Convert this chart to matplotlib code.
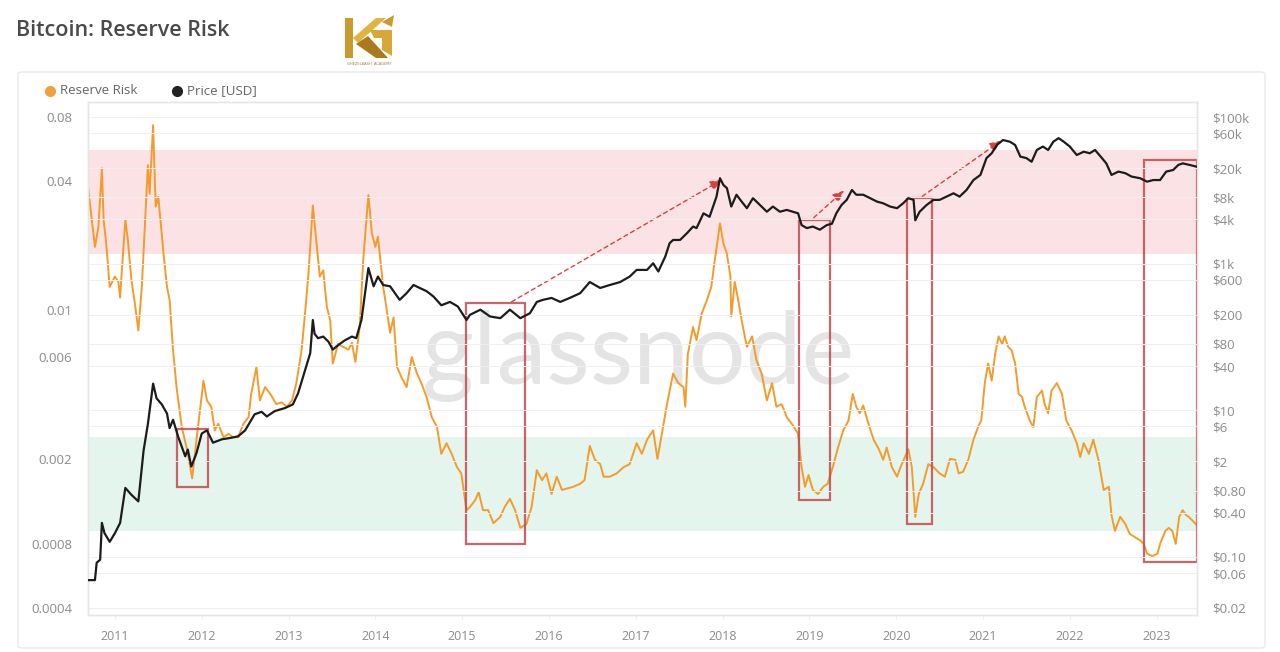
import matplotlib
matplotlib.use("Agg")
import matplotlib.pyplot as plt
from matplotlib.patches import Rectangle, FancyBboxPatch, Polygon
from matplotlib.ticker import FixedLocator, NullLocator, FixedFormatter

# ---------------- data ----------------
rr_years = [2010.69, 2010.73, 2010.77, 2010.81, 2010.85, 2010.87, 2010.90, 2010.94, 2011.00, 2011.04,
            2011.06, 2011.08, 2011.12, 2011.15, 2011.19, 2011.23, 2011.27, 2011.31, 2011.35, 2011.38,
            2011.40, 2011.44, 2011.47, 2011.50, 2011.56, 2011.60, 2011.63, 2011.67, 2011.71, 2011.77,
            2011.83, 2011.89, 2011.94, 2012.02, 2012.06, 2012.11, 2012.15, 2012.19, 2012.25, 2012.31,
            2012.36, 2012.42, 2012.48, 2012.54, 2012.57, 2012.63, 2012.67, 2012.73, 2012.79, 2012.86,
            2012.92, 2012.98, 2013.04, 2013.09, 2013.15, 2013.19, 2013.23, 2013.28, 2013.32, 2013.36,
            2013.40, 2013.44, 2013.48, 2013.51, 2013.57, 2013.63, 2013.69, 2013.73, 2013.77, 2013.82,
            2013.86, 2013.92, 2013.96, 2014.00, 2014.03, 2014.09, 2014.11, 2014.17, 2014.21, 2014.25,
            2014.30, 2014.36, 2014.42, 2014.48, 2014.53, 2014.59, 2014.65, 2014.71, 2014.76, 2014.82,
            2014.88, 2014.94, 2014.99, 2015.05, 2015.09, 2015.15, 2015.19, 2015.24, 2015.30, 2015.36,
            2015.44, 2015.49, 2015.55, 2015.61, 2015.67, 2015.74, 2015.80, 2015.86, 2015.92, 2015.97,
            2016.03, 2016.09, 2016.15, 2016.20, 2016.28, 2016.36, 2016.41, 2016.47, 2016.53, 2016.59,
            2016.63, 2016.70, 2016.78, 2016.86, 2016.93, 2017.01, 2017.07, 2017.13, 2017.20, 2017.25,
            2017.30, 2017.36, 2017.43, 2017.49, 2017.55, 2017.57, 2017.60, 2017.66, 2017.70, 2017.76,
            2017.82, 2017.87, 2017.91, 2017.97, 2018.01, 2018.05, 2018.09, 2018.10, 2018.14, 2018.18,
            2018.22, 2018.28, 2018.34, 2018.39, 2018.45, 2018.51, 2018.57, 2018.62, 2018.68, 2018.74,
            2018.81, 2018.87, 2018.91, 2018.95, 2018.99, 2019.04, 2019.10, 2019.16, 2019.21, 2019.27,
            2019.33, 2019.39, 2019.45, 2019.50, 2019.54, 2019.58, 2019.62, 2019.68, 2019.74, 2019.80,
            2019.85, 2019.89, 2019.95, 2020.01, 2020.05, 2020.10, 2020.14, 2020.18, 2020.22, 2020.26,
            2020.31, 2020.37, 2020.43, 2020.50, 2020.56, 2020.62, 2020.68, 2020.72, 2020.77, 2020.83,
            2020.89, 2020.95, 2020.98, 2021.02, 2021.06, 2021.10, 2021.14, 2021.18, 2021.22, 2021.25,
            2021.29, 2021.33, 2021.37, 2021.41, 2021.45, 2021.48, 2021.54, 2021.58, 2021.62, 2021.68,
            2021.71, 2021.75, 2021.79, 2021.85, 2021.91, 2021.96, 2022.02, 2022.08, 2022.12, 2022.16,
            2022.22, 2022.27, 2022.33, 2022.39, 2022.45, 2022.48, 2022.52, 2022.58, 2022.64, 2022.69,
            2022.75, 2022.81, 2022.85, 2022.89, 2022.95, 2023.01, 2023.04, 2023.10, 2023.14, 2023.18,
            2023.22, 2023.26, 2023.30, 2023.34, 2023.37, 2023.41, 2023.47]

rr_values = [0.0377, 0.0272, 0.0197, 0.0245, 0.0460, 0.0263, 0.0204, 0.0128, 0.0143, 0.0135,
             0.0114, 0.0153, 0.0263, 0.0211, 0.0138, 0.0107, 0.0080, 0.0128, 0.0272, 0.0476,
             0.0350, 0.0733, 0.0304, 0.0338, 0.0183, 0.0128, 0.0111, 0.00645, 0.00434, 0.00282,
             0.00222, 0.00162, 0.00246, 0.00465, 0.00376, 0.00351, 0.00272, 0.00292, 0.00253, 0.00262,
             0.00253, 0.00253, 0.00292, 0.00314, 0.00403, 0.00538, 0.00376, 0.00434, 0.00403, 0.00361,
             0.00368, 0.00351, 0.00376, 0.00453, 0.00645, 0.0096, 0.0148, 0.0308, 0.0211, 0.0143,
             0.0153, 0.0104, 0.0089, 0.0056, 0.0069, 0.0067, 0.0065, 0.0070, 0.0057, 0.0083,
             0.0170, 0.0345, 0.0228, 0.0197, 0.0220, 0.0128, 0.0114, 0.0078, 0.0092, 0.00538,
             0.00484, 0.00434, 0.0060, 0.00502, 0.00453, 0.00390, 0.00314, 0.00282, 0.00211, 0.00237,
             0.00211, 0.00183, 0.00171, 0.00115, 0.00119, 0.00128, 0.00140, 0.00115, 0.00115, 0.00100,
             0.00107, 0.00119, 0.00130, 0.00115, 0.00095, 0.00099, 0.00119, 0.00177, 0.00159, 0.00171,
             0.00137, 0.00165, 0.00143, 0.00145, 0.00148, 0.00153, 0.00159, 0.00230, 0.00198, 0.00189,
             0.00165, 0.00165, 0.00171, 0.00183, 0.00189, 0.00237, 0.00211, 0.00246, 0.00272, 0.00200,
             0.00262, 0.00361, 0.00502, 0.00453, 0.00434, 0.00351, 0.0062, 0.0083, 0.0072, 0.0096,
             0.0111, 0.0128, 0.0170, 0.0254, 0.0204, 0.0183, 0.0143, 0.0093, 0.0135, 0.0111,
             0.0089, 0.0067, 0.0075, 0.0058, 0.00502, 0.00376, 0.00453, 0.00351, 0.00361, 0.00314,
             0.00287, 0.00262, 0.00183, 0.00148, 0.00168, 0.00143, 0.00137, 0.00148, 0.00153, 0.00183,
             0.00226, 0.00272, 0.00302, 0.00403, 0.00351, 0.00327, 0.00356, 0.00292, 0.00246, 0.00222,
             0.00198, 0.00226, 0.00183, 0.00165, 0.00183, 0.00204, 0.00222, 0.00183, 0.00107, 0.00137,
             0.00153, 0.00189, 0.00183, 0.00171, 0.00165, 0.00200, 0.00198, 0.00171, 0.00174, 0.00198,
             0.00246, 0.00287, 0.00302, 0.00453, 0.0056, 0.00465, 0.0062, 0.0075, 0.0069, 0.0075,
             0.0067, 0.00645, 0.0056, 0.00403, 0.00390, 0.00351, 0.00302, 0.00282, 0.00390, 0.00418,
             0.00361, 0.00327, 0.00418, 0.00453, 0.00403, 0.00302, 0.00272, 0.00237, 0.00204, 0.00237,
             0.00211, 0.00246, 0.00198, 0.00143, 0.00148, 0.00109, 0.00092, 0.00107, 0.00099, 0.00089,
             0.00086, 0.00083, 0.00080, 0.00072, 0.00070, 0.00072, 0.00080, 0.00092, 0.00095, 0.00092,
             0.00080, 0.00107, 0.00115, 0.00109, 0.00107, 0.00103, 0.00097]

price_years = [2010.69, 2010.77, 2010.79, 2010.83, 2010.85, 2010.88, 2010.94, 2011.00, 2011.06, 2011.12,
               2011.19, 2011.27, 2011.33, 2011.38, 2011.44, 2011.48, 2011.54, 2011.60, 2011.63, 2011.67,
               2011.73, 2011.81, 2011.84, 2011.88, 2011.94, 2012.00, 2012.06, 2012.13, 2012.23, 2012.34,
               2012.42, 2012.50, 2012.61, 2012.69, 2012.75, 2012.84, 2012.96, 2013.05, 2013.11, 2013.19,
               2013.25, 2013.28, 2013.30, 2013.34, 2013.40, 2013.46, 2013.51, 2013.57, 2013.65, 2013.73,
               2013.78, 2013.84, 2013.92, 2013.98, 2014.03, 2014.09, 2014.17, 2014.28, 2014.36, 2014.44,
               2014.51, 2014.59, 2014.67, 2014.76, 2014.86, 2014.95, 2015.05, 2015.09, 2015.21, 2015.32,
               2015.44, 2015.55, 2015.67, 2015.78, 2015.86, 2015.93, 2016.03, 2016.13, 2016.24, 2016.36,
               2016.47, 2016.59, 2016.70, 2016.82, 2016.93, 2017.01, 2017.13, 2017.20, 2017.26, 2017.34,
               2017.39, 2017.43, 2017.51, 2017.59, 2017.66, 2017.70, 2017.78, 2017.85, 2017.89, 2017.93,
               2017.97, 2018.01, 2018.05, 2018.10, 2018.16, 2018.22, 2018.28, 2018.35, 2018.43, 2018.51,
               2018.58, 2018.66, 2018.74, 2018.81, 2018.87, 2018.91, 2018.97, 2019.04, 2019.12, 2019.20,
               2019.26, 2019.31, 2019.37, 2019.43, 2019.49, 2019.54, 2019.62, 2019.70, 2019.78, 2019.85,
               2019.93, 2020.01, 2020.08, 2020.14, 2020.20, 2020.22, 2020.27, 2020.35, 2020.43, 2020.50,
               2020.58, 2020.66, 2020.73, 2020.81, 2020.89, 2020.97, 2021.04, 2021.10, 2021.16, 2021.23,
               2021.31, 2021.37, 2021.43, 2021.50, 2021.56, 2021.62, 2021.69, 2021.75, 2021.81, 2021.87,
               2021.93, 2022.00, 2022.08, 2022.16, 2022.23, 2022.29, 2022.37, 2022.42, 2022.48, 2022.56,
               2022.64, 2022.71, 2022.81, 2022.89, 2022.96, 2023.04, 2023.11, 2023.19, 2023.25, 2023.30,
               2023.38, 2023.46]

price_values = [0.048, 0.048, 0.083, 0.091, 0.29, 0.21, 0.16, 0.21, 0.29, 0.87,
                0.70, 0.57, 2.8, 6.5, 23, 14.5, 12, 9.0, 5.7, 7.4,
                4.3, 2.35, 2.9, 1.7, 2.6, 4.8, 5.3, 3.6, 4.0, 4.2,
                4.4, 5.3, 8.8, 9.5, 8.2, 9.7, 10.7, 12, 17, 35,
                60, 170, 110, 96, 101, 86, 67, 77, 90, 101,
                96, 170, 870, 490, 665, 510, 490, 320, 395, 510,
                465, 420, 355, 270, 300, 260, 170, 200, 235, 190,
                180, 235, 180, 210, 300, 320, 340, 300, 340, 395,
                560, 465, 510, 560, 665, 820, 820, 1010, 780, 1250,
                1900, 2100, 2100, 2600, 3200, 3050, 4850, 4350, 6000, 8200,
                14600, 11800, 10700, 6000, 8700, 7000, 5700, 7800, 6300, 5100,
                6000, 5100, 5400, 5100, 4850, 3350, 3050, 3200, 2900, 3350,
                3500, 4850, 6300, 7400, 10100, 8700, 8700, 7800, 7000, 6650,
                6000, 5700, 6650, 7800, 7400, 3900, 5100, 6300, 7400, 7400,
                8200, 9100, 8200, 10100, 13800, 16200, 27500, 32000, 41500, 48500,
                46000, 41500, 28800, 27500, 24500, 35500, 39500, 35500, 46000, 51500,
                46000, 39500, 30300, 33600, 32000, 35500, 27500, 23300, 16200, 18000,
                17100, 15400, 14600, 13100, 13800, 13800, 18000, 18900, 22200, 23300,
                22200, 21000]

left_ticks = [0.0004, 0.0008, 0.002, 0.006, 0.01, 0.04, 0.08]
left_labels = ["0.0004", "0.0008", "0.002", "0.006", "0.01", "0.04", "0.08"]
right_ticks = [0.02, 0.06, 0.10, 0.40, 0.80, 2, 6, 10, 40, 80, 200, 600, 1000, 4000, 8000,
               20000, 60000, 100000]
right_labels = ["$0.02", "$0.06", "$0.10", "$0.40", "$0.80", "$2", "$6", "$10", "$40", "$80",
                "$200", "$600", "$1k", "$4k", "$8k", "$20k", "$60k", "$100k"]
year_ticks = list(range(2011, 2024))

# risk zones (Reserve Risk units)
red_zone = (0.0182, 0.0561)
green_zone = (0.000918, 0.00252)

# highlighted boxes: (start year, end year, low, high) in Reserve Risk units
boxes = [(2011.71, 2012.07, 0.00147, 0.00276),
         (2015.05, 2015.72, 0.000800, 0.0108),
         (2018.88, 2019.24, 0.00128, 0.0262),
         (2020.12, 2020.41, 0.00099, 0.0334),
         (2022.85, 2023.47, 0.00066, 0.0505)]

# dashed arrows: (x0, y0, x1, y1) in Reserve Risk units
arrows = [(2015.57, 0.0109, 2017.99, 0.0406),
          (2019.05, 0.0270, 2019.40, 0.0362),
          (2020.30, 0.0340, 2021.21, 0.0620)]

# ---------------- figure ----------------
W, H = 1280, 652
fig = plt.figure(figsize=(W / 100, H / 100), dpi=100)
fig.patch.set_facecolor("white")

def fx(px):
    return px / W

def fy(py):
    return 1 - py / H

# card outline
card = FancyBboxPatch((fx(18), fy(648)), fx(1265) - fx(18), fy(72) - fy(648),
                      boxstyle="round,pad=0,rounding_size=0.004", transform=fig.transFigure,
                      facecolor="none", edgecolor="#e9e9e9", lw=1.0, zorder=-1)
fig.patches.append(card)

ax_left, ax_right, ax_top, ax_bottom = 88, 1197, 102, 615
ax = fig.add_axes([fx(ax_left), fy(ax_bottom), fx(ax_right) - fx(ax_left), fy(ax_top) - fy(ax_bottom)])
ax.set_facecolor("none")
ax2 = ax.twinx()

ax.set_yscale("log")
ax2.set_yscale("log")
ax.set_xlim(2010.69, 2023.465)
ax.set_ylim(0.000371, 0.0941)
ax2.set_ylim(0.01605, 160200)

# background zones
ax.axhspan(*red_zone, color="#fbe3e5", lw=0, zorder=0)
ax.axhspan(*green_zone, color="#e4f5ee", lw=0, zorder=0)

# faint horizontal grid
for t in right_ticks:
    ax2.axhline(t, color="#f0f0f0", lw=0.7, zorder=0)

# watermark
ax.text(0.496, 0.505, "glassnode", transform=ax.transAxes, ha="center", va="center",
        fontsize=72, color="#e4e4e4", family="Lato", fontweight="normal", zorder=1)

# series
ax.plot(rr_years, rr_values, color="#f39c2c", lw=1.4, zorder=3)
ax2.plot(price_years, price_values, color="#1c1c1c", lw=1.6, zorder=3)

# boxes
for x0, x1, y0, y1 in boxes:
    ax.add_patch(Rectangle((x0, y0), x1 - x0, y1 - y0, fill=False, edgecolor="#c24a4d",
                           lw=1.6, alpha=0.85, zorder=4))
# arrows
for x0, y0, x1, y1 in arrows:
    ax.annotate("", xy=(x1, y1), xytext=(x0, y0),
                arrowprops=dict(arrowstyle="-|>,head_length=0.7,head_width=0.3",
                                color="#d9413f", lw=1.0, linestyle=(0, (3, 2.5)),
                                shrinkA=0, shrinkB=0), zorder=5)

# ticks
tick_color = "#8c8c8c"
ax.yaxis.set_major_locator(FixedLocator(left_ticks))
ax.yaxis.set_major_formatter(FixedFormatter(left_labels))
ax.yaxis.set_minor_locator(NullLocator())
ax2.yaxis.set_major_locator(FixedLocator(right_ticks))
ax2.yaxis.set_major_formatter(FixedFormatter(right_labels))
ax2.yaxis.set_minor_locator(NullLocator())
ax.set_xticks(year_ticks)
ax.set_xticklabels([str(y) for y in year_ticks])
ax.tick_params(axis="y", length=0, pad=11.5, labelsize=9.5, labelcolor=tick_color)
ax2.tick_params(axis="y", length=0, pad=11, labelsize=9.5, labelcolor=tick_color)
ax.tick_params(axis="x", length=3, color="#eeeeee", pad=8, labelsize=9, labelcolor=tick_color)
for lab in ax.get_yticklabels() + ax2.get_yticklabels() + ax.get_xticklabels():
    lab.set_family("Open Sans")

for a in (ax, ax2):
    for s in a.spines.values():
        s.set_color("#e6e6e6")
        s.set_linewidth(1.0)

# title
fig.text(fx(16), fy(31), "Bitcoin: Reserve Risk", ha="left", va="center", fontsize=15.5,
         family="Open Sans", fontweight="semibold", color="#4a4a4a")

# legend
fig.lines.append(plt.Line2D([fx(50)], [fy(91)], marker="o", markersize=7, color="#f0a040",
                            transform=fig.transFigure, lw=0))
fig.text(fx(60), fy(91), "Reserve Risk", ha="left", va="center", fontsize=9.6,
         family="Open Sans", color="#666666")
fig.lines.append(plt.Line2D([fx(177)], [fy(91)], marker="o", markersize=7, color="#222222",
                            transform=fig.transFigure, lw=0))
fig.text(fx(187), fy(91), "Price [USD]", ha="left", va="center", fontsize=9.6,
         family="Open Sans", color="#666666")

# small gold logo
def P(pts, color):
    fig.patches.append(Polygon([(fx(a), fy(b)) for a, b in pts], closed=True,
                               transform=fig.transFigure, facecolor=color, edgecolor="none"))

P([(345, 18), (353, 18), (353, 58), (345, 58)], "#c99a2e")
P([(353, 38), (376, 18), (386, 18), (358, 43)], "#e0b443")
P([(356, 44), (368, 36), (388, 58), (376, 58)], "#a97b1e")
P([(370, 30), (392, 30), (392, 56), (382, 50), (382, 38), (374, 38)], "#d6a83a")
P([(382, 22), (394, 15), (392, 27)], "#c99a2e")
fig.text(fx(369), fy(64), "GHEZELBASH  ACADEMY", ha="center", va="center", fontsize=2.6,
         color="#a08040")

fig.savefig("out.png", dpi=100, facecolor="white")
